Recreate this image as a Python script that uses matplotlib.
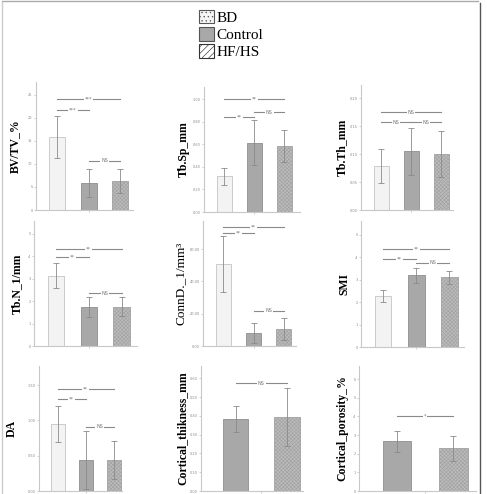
import matplotlib
matplotlib.use('Agg')
import matplotlib.pyplot as plt
from matplotlib.patches import Patch
from matplotlib.lines import Line2D

W, H = 487, 494
plt.rcParams['font.family'] = ['Liberation Serif', 'DejaVu Serif']
plt.rcParams['hatch.linewidth'] = 0.45

groups = ['BD', 'Control', 'HF/HS']

# means and SDs
bvtv_mean = [15.8, 5.8, 6.3]
bvtv_sd = [4.6, 3.0, 2.5]
tbsp_mean = [0.317, 0.617, 0.587]
tbsp_sd = [0.074, 0.198, 0.143]
tbth_mean = [0.079, 0.105, 0.100]
tbth_sd = [0.030, 0.042, 0.041]
tbn_mean = [3.13, 1.73, 1.75]
tbn_sd = [0.56, 0.45, 0.43]
connd_mean = [50.8, 7.9, 10.7]
connd_sd = [17.4, 6.1, 6.9]
smi_mean = [2.27, 3.19, 3.11]
smi_sd = [0.27, 0.33, 0.29]
da_mean = [0.95, 0.44, 0.44]
da_sd = [0.26, 0.41, 0.27]
ct_mean = [0.383, 0.394]
ct_sd = [0.068, 0.153]
cp_mean = [2.66, 2.28]
cp_sd = [0.58, 0.68]

# significance brackets: (bar i, bar j, height, label)
bvtv_sig = [(0, 2, 24.1, '***'), (0, 1, 21.7, '***'), (1, 2, 10.65, 'NS')]
tbsp_sig = [(0, 2, 1.0, '**'), (0, 1, 0.84, '**'), (1, 2, 0.884, 'NS')]
tbth_sig = [(0, 2, 0.1755, 'NS'), (0, 1, 0.157, 'NS'), (1, 2, 0.157, 'NS')]
tbn_sig = [(0, 2, 4.33, '**'), (0, 1, 3.99, '**'), (1, 2, 2.35, 'NS')]
connd_sig = [(0, 2, 73.9, '**'), (0, 1, 70.2, '**'), (1, 2, 21.9, 'NS')]
smi_sig = [(0, 2, 4.36, '**'), (0, 1, 3.9, '**'), (1, 2, 3.75, 'NS')]
da_sig = [(0, 2, 1.446, '**'), (0, 1, 1.296, '**'), (1, 2, 0.911, 'NS')]
ct_sig = [(0, 1, 0.572, 'NS')]
cp_sig = [(0, 1, 4.02, '*')]

colors = {'BD': ('#f3f3f3', '#c4c4c4', None),
          'Control': ('#a8a8a8', '#8e8e8e', None),
          'HF/HS': ('#bcbcbc', '#a2a2a2', 'xxxxxxxxx')}

fig = plt.figure(figsize=(W / 100, H / 100), dpi=100)


def add_panel(x0, x1, ytop, ybot, names, mean, sd, sig, ticks, ymax, fmt,
              label, lab_x, bold=True, xr=2.4, lab_size=8.5):
    ax = fig.add_axes([x0 / W, 1 - ybot / H, (x1 - x0) / W, (ybot - ytop) / H])
    xs = list(range(len(names)))
    for x, n, m in zip(xs, names, mean):
        fc, ec, hat = colors[n]
        ax.bar(x, m, width=0.5, color=fc, edgecolor=ec, hatch=hat, linewidth=0.6)
    ax.errorbar(xs, mean, yerr=sd, fmt='none', ecolor='#8a8a8a',
                elinewidth=0.6, capsize=2.5, capthick=0.6)
    for i, j, lev, txt in sig:
        ax.plot([i, j], [lev, lev], color='#8a8a8a', lw=0.8)
        ax.text((i + j) / 2, lev, txt, ha='center', va='center', fontsize=3.5,
                color='#777777', family='DejaVu Sans',
                bbox=dict(fc='white', ec='none', pad=0.6))
    ax.set_xlim(-0.67, xr)
    ax.set_ylim(0, ymax)
    ax.set_yticks(ticks)
    ax.set_yticklabels([fmt % t for t in ticks], fontsize=2.5, color='#888888',
                       family='DejaVu Sans')
    ax.set_xticks([(len(names) - 1) / 2])
    ax.set_xticklabels([''])
    ax.tick_params(length=1.5, width=0.5, color='#bbbbbb', pad=1)
    for s in ['top', 'right']:
        ax.spines[s].set_visible(False)
    for s in ['left', 'bottom']:
        ax.spines[s].set_color('#c8c8c8')
        ax.spines[s].set_linewidth(0.8)
    fig.text(lab_x / W, 1 - (ytop + ybot) / 2 / H, label, rotation=90,
             ha='center', va='center', fontsize=lab_size,
             fontweight='bold' if bold else 'normal')
    return ax


add_panel(36, 133, 82, 210, groups, bvtv_mean, bvtv_sd, bvtv_sig,
          [0, 5, 10, 15, 20, 25], 27.8, '%.0f', 'BV/TV_%', 15)
add_panel(204, 300, 87, 212, groups, tbsp_mean, tbsp_sd, tbsp_sig,
          [0, 0.2, 0.4, 0.6, 0.8, 1.0], 1.11, '%.2f', 'Tb.Sp_mm', 184, xr=2.52)
add_panel(361, 453, 85, 210, groups, tbth_mean, tbth_sd, tbth_sig,
          [0, 0.05, 0.1, 0.15, 0.2], 0.224, '%.2f', 'Tb.Th_mm', 342)
add_panel(34, 137, 221, 346, groups, tbn_mean, tbn_sd, tbn_sig,
          [0, 1, 2, 3, 4, 5], 5.58, '%.0f', 'Tb.N_1/mm', 17, xr=2.47)
add_panel(203, 296, 221, 346, groups, connd_mean, connd_sd, connd_sig,
          [0, 20, 40, 60], 77.4, '%.2f', 'ConnD._1/mm³', 181, bold=False,
          lab_size=9.5)
add_panel(361, 464, 221, 347, groups, smi_mean, smi_sd, smi_sig,
          [0, 1, 2, 3, 4, 5], 5.6, '%.0f', 'SMI', 344, xr=2.44)
add_panel(39, 122, 366, 491, groups, da_mean, da_sd, da_sig,
          [0, 0.5, 1.0, 1.5], 1.77, '%.2f', 'DA', 12, xr=2.3)
add_panel(201, 303, 366, 491, groups[1:], ct_mean, ct_sd, ct_sig,
          [0, 0.1, 0.2, 0.3, 0.4, 0.5, 0.6], 0.665, '%.2f',
          'Cortical_thikness_mm', 183, xr=1.31)
add_panel(359, 476, 366, 491, groups[1:], cp_mean, cp_sd, cp_sig,
          [0, 1, 2, 3, 4, 5, 6], 6.7, '%.0f', 'Cortical_porosity_%', 342, xr=1.4)

# legend
handles = [Patch(facecolor='#f6f6f6', edgecolor='#555555', hatch='....', lw=0.8),
           Patch(facecolor='#a8a8a8', edgecolor='#555555', lw=0.8),
           Patch(facecolor='white', edgecolor='#333333', hatch='/////', lw=0.8)]
fig.legend(handles, groups, loc='upper left', bbox_to_anchor=(188 / W, 1 + 1 / H),
           frameon=False, fontsize=11, handlelength=1.0, handleheight=1.0,
           handletextpad=0.15, labelspacing=0.15, borderpad=0.2)

# outer frame of the composite figure
fig.add_artist(Line2D([2 / W, 478 / W], [1 - 1 / H, 1 - 1 / H], color='#aaaaaa', lw=1))
fig.add_artist(Line2D([480 / W, 480 / W], [0, 1 - 3 / H], color='#555555', lw=1))
fig.add_artist(Line2D([1.5 / W, 1.5 / W], [0, 1 - 2 / H], color='#cccccc', lw=1))

fig.savefig('out.png', dpi=100)
